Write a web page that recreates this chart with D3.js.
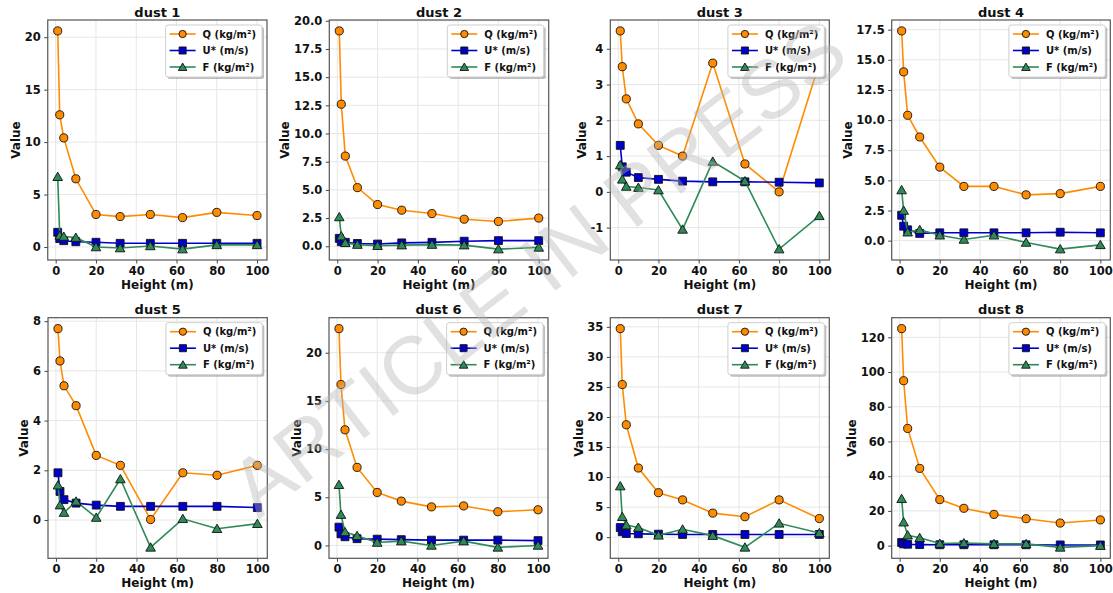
<!DOCTYPE html>
<html>
<head>
<meta charset="utf-8">
<script src="https://cdn.jsdelivr.net/npm/d3@7"></script>
<style>
body { margin: 0; background: #fff; }
text { font-family: "DejaVu Sans", sans-serif; font-weight: bold; fill: #111; }
</style>
</head>
<body>
<div id="chart"></div>
<script>
'use strict';

// ---------------- data ----------------
var heights = [1, 2, 4, 10, 20, 32, 47, 63, 80, 100];
var dustNames = ['dust 1', 'dust 2', 'dust 3', 'dust 4', 'dust 5', 'dust 6', 'dust 7', 'dust 8'];
var seriesNames = ['Q (kg/m\u00b2)', 'U* (m/s)', 'F (kg/m\u00b2)'];

var qValues = [
    [20.6, 12.6, 10.4, 6.5, 3.1, 2.9, 3.1, 2.8, 3.3, 3.0],
    [19.1, 12.6, 8.0, 5.2, 3.7, 3.2, 2.9, 2.4, 2.2, 2.5],
    [4.5, 3.5, 2.6, 1.9, 1.3, 1.0, 3.6, 0.78, 0.0, 3.6],
    [17.4, 14.0, 10.4, 8.6, 6.1, 4.5, 4.5, 3.8, 3.9, 4.5],
    [7.7, 6.4, 5.4, 4.6, 2.6, 2.2, 0.02, 1.9, 1.8, 2.2],
    [22.5, 16.7, 12.0, 8.1, 5.5, 4.6, 4.0, 4.1, 3.5, 3.7],
    [34.7, 25.4, 18.7, 11.5, 7.4, 6.2, 4.0, 3.4, 6.2, 3.1],
    [125, 95, 67.5, 44.5, 26.5, 21.5, 18, 15.5, 13, 14.8]
];

var uValues = [
    [1.4, 0.8, 0.6, 0.5, 0.45, 0.35, 0.35, 0.35, 0.35, 0.35],
    [0.7, 0.4, 0.35, 0.25, 0.2, 0.3, 0.35, 0.45, 0.5, 0.5],
    [1.3, 0.7, 0.55, 0.4, 0.35, 0.3, 0.28, 0.28, 0.27, 0.25],
    [2.1, 1.2, 0.9, 0.6, 0.65, 0.65, 0.65, 0.65, 0.7, 0.65],
    [1.9, 1.15, 0.82, 0.68, 0.6, 0.55, 0.55, 0.55, 0.55, 0.5],
    [1.9, 1.2, 0.9, 0.7, 0.65, 0.6, 0.55, 0.55, 0.55, 0.5],
    [1.6, 0.9, 0.6, 0.55, 0.5, 0.45, 0.45, 0.45, 0.45, 0.45],
    [1.8, 1.0, 0.8, 0.6, 0.5, 0.5, 0.5, 0.5, 0.4, 0.4]
];

var fValues = [
    [6.7, 1.1, 1.0, 0.9, 0.0, -0.1, 0.1, -0.2, 0.2, 0.2],
    [2.6, 0.9, 0.3, 0.15, 0.05, 0.1, 0.15, 0.1, -0.25, -0.1],
    [0.75, 0.35, 0.15, 0.12, 0.05, -1.05, 0.85, 0.3, -1.6, -0.67],
    [4.2, 2.5, 0.7, 0.9, 0.45, 0.1, 0.45, -0.15, -0.7, -0.35],
    [1.4, 0.6, 0.3, 0.75, 0.1, 1.65, -1.1, 0.05, -0.35, -0.15],
    [6.3, 3.2, 1.4, 1.0, 0.3, 0.45, 0.0, 0.45, -0.2, 0.0],
    [8.5, 3.4, 2.0, 1.6, 0.3, 1.3, 0.25, -1.7, 2.3, 0.7],
    [27, 13.5, 6, 4.5, 1.2, 1.5, 1, 1, -1, 0]
];

var xTickLabels = ['0', '20', '40', '60', '80', '100'];
var yTickLabels = [
    ['0', '5', '10', '15', '20'],
    ['0.0', '2.5', '5.0', '7.5', '10.0', '12.5', '15.0', '17.5', '20.0'],
    ['-1', '0', '1', '2', '3', '4'],
    ['0.0', '2.5', '5.0', '7.5', '10.0', '12.5', '15.0', '17.5'],
    ['0', '2', '4', '6', '8'],
    ['0', '5', '10', '15', '20'],
    ['0', '5', '10', '15', '20', '25', '30', '35'],
    ['0', '20', '40', '60', '80', '100', '120']
];

// ---------------- layout & style ----------------
var boxes = [
    {l: 47.75, t: 20,    r: 267,    b: 260},
    {l: 329.3, t: 20,    r: 548.7,  b: 260},
    {l: 610.3, t: 20,    r: 829.3,  b: 260},
    {l: 891.7, t: 20,    r: 1110.3, b: 260},
    {l: 48,    t: 317.7, r: 267.3,  b: 558.3},
    {l: 329,   t: 317.7, r: 548,    b: 558.3},
    {l: 610.3, t: 317.7, r: 829.3,  b: 558.3},
    {l: 891.7, t: 317.7, r: 1110.3, b: 558.3}
];

var colors  = ['#ff8c00', '#0000cd', '#2e8b57'];
var symbols = [d3.symbolCircle, d3.symbolSquare, d3.symbolTriangle];
var symSize = [52, 62, 40];

function pad(ext)
{
    var m = (ext[1] - ext[0]) * 0.05;
    return [ext[0] - m, ext[1] + m];
}

function drawPanel(svg, i)
{
    var box = boxes[i];
    var series = [qValues[i], uValues[i], fValues[i]];

    var xScale = d3.scaleLinear().domain(pad(d3.extent(heights))).range([box.l, box.r]);
    var all = d3.merge(series);
    var yScale = d3.scaleLinear().domain(pad(d3.extent(all))).range([box.b, box.t]);

    var xTicks = xTickLabels.map(Number);
    var yTicks = yTickLabels[i].map(Number);

    var g = svg.append('g');

    // grid
    g.append('g').selectAll('line.gx')
        .data(xTicks).enter().append('line')
        .attr('x1', function(d) { return xScale(d); })
        .attr('x2', function(d) { return xScale(d); })
        .attr('y1', box.t).attr('y2', box.b)
        .attr('stroke', '#e6e6e6').attr('stroke-width', 1);

    g.append('g').selectAll('line.gy')
        .data(yTicks).enter().append('line')
        .attr('x1', box.l).attr('x2', box.r)
        .attr('y1', function(d) { return yScale(d); })
        .attr('y2', function(d) { return yScale(d); })
        .attr('stroke', '#e6e6e6').attr('stroke-width', 1);

    // axes
    var xAxis = g.append('g')
        .attr('transform', 'translate(0,' + box.b + ')')
        .call(d3.axisBottom(xScale).tickValues(xTicks)
            .tickFormat(function(d, k) { return xTickLabels[k]; })
            .tickSize(3.5).tickPadding(3.5));

    var yAxis = g.append('g')
        .attr('transform', 'translate(' + box.l + ',0)')
        .call(d3.axisLeft(yScale).tickValues(yTicks)
            .tickFormat(function(d, k) { return yTickLabels[i][k]; })
            .tickSize(3.5).tickPadding(3.5));

    [xAxis, yAxis].forEach(function(a) {
        a.select('.domain').remove();
        a.selectAll('.tick line').attr('stroke', '#444');
        a.selectAll('.tick text')
            .style('font-family', '"DejaVu Sans", sans-serif')
            .style('font-weight', 'bold')
            .style('font-size', '11.5px')
            .attr('fill', '#111');
    });

    // spines
    g.append('rect')
        .attr('x', box.l).attr('y', box.t)
        .attr('width', box.r - box.l).attr('height', box.b - box.t)
        .attr('fill', 'none').attr('stroke', '#555').attr('stroke-width', 1.2);

    // lines + markers
    var line = d3.line()
        .x(function(d, k) { return xScale(heights[k]); })
        .y(function(d) { return yScale(d); });

    series.forEach(function(vals, s) {
        var sg = g.append('g');
        sg.append('path')
            .attr('d', line(vals))
            .attr('fill', 'none')
            .attr('stroke', colors[s])
            .attr('stroke-width', 1.6);
        sg.selectAll('path.m')
            .data(vals).enter().append('path')
            .attr('transform', function(d, k) {
                var dy = s === 2 ? 1 : 0;
                return 'translate(' + xScale(heights[k]) + ',' + (yScale(d) + dy) + ')';
            })
            .attr('d', d3.symbol().type(symbols[s]).size(symSize[s]))
            .attr('fill', colors[s])
            .attr('stroke', '#111')
            .attr('stroke-width', 0.9);
    });

    // title
    g.append('text')
        .attr('x', (box.l + box.r) / 2)
        .attr('y', box.t - 3.5)
        .attr('text-anchor', 'middle')
        .style('font-size', '13px')
        .text(dustNames[i]);

    // x label
    g.append('text')
        .attr('x', (box.l + box.r) / 2)
        .attr('y', box.b + 29)
        .attr('text-anchor', 'middle')
        .style('font-size', '12px')
        .text('Height (m)');

    // y label, left of the widest tick label
    var minX = d3.min(yAxis.selectAll('.tick text').nodes(), function(n) {
        var bb = n.getBBox();
        return box.l + bb.x;
    });
    g.append('text')
        .attr('transform', 'translate(' + (minX - 4.5) + ',' + ((box.t + box.b) / 2) + ') rotate(-90)')
        .attr('text-anchor', 'middle')
        .style('font-size', '12px')
        .text('Value');

    // legend
    var lg = g.append('g');
    var texts = [];
    var left = 0, top = box.t + 5;
    var tmp = lg.selectAll('text.t').data(seriesNames).enter().append('text')
        .style('font-size', '10px')
        .attr('dy', '0.35em')
        .text(function(d) { return d; });
    var tw = d3.max(tmp.nodes(), function(n) { return n.getComputedTextLength(); });
    var w = 37 + tw + 6;
    left = box.r - 5 - w;

    lg.insert('rect', 'text')
        .attr('x', left + 2).attr('y', top + 2)
        .attr('width', w).attr('height', 52)
        .attr('rx', 2.5)
        .attr('fill', '#888').attr('opacity', 0.55);
    lg.insert('rect', 'text')
        .attr('x', left).attr('y', top)
        .attr('width', w).attr('height', 52)
        .attr('rx', 2.5)
        .attr('fill', '#fff').attr('stroke', '#cfcfcf').attr('stroke-width', 1);

    tmp.attr('x', left + 37)
        .attr('y', function(d, k) { return top + 9 + k * 16.5; });

    seriesNames.forEach(function(nm, s) {
        var yy = top + 9 + s * 16.5;
        lg.append('line')
            .attr('x1', left + 4).attr('x2', left + 30)
            .attr('y1', yy).attr('y2', yy)
            .attr('stroke', colors[s]).attr('stroke-width', 1.6);
        lg.append('path')
            .attr('transform', 'translate(' + (left + 17) + ',' + (yy + (s === 2 ? 1 : 0)) + ')')
            .attr('d', d3.symbol().type(symbols[s]).size(symSize[s] * 0.8))
            .attr('fill', colors[s])
            .attr('stroke', '#111')
            .attr('stroke-width', 0.9);
    });
}

var svg = d3.select('#chart').append('svg')
    .attr('width', 1113)
    .attr('height', 593);

svg.append('rect').attr('width', 1113).attr('height', 593).attr('fill', '#fff');

for (var i = 0; i < dustNames.length; i++) {
    drawPanel(svg, i);
}

// watermark
svg.append('text')
    .attr('transform', 'translate(538,268) rotate(-37.7)')
    .attr('text-anchor', 'middle')
    .attr('dominant-baseline', 'central')
    .style('font-family', '"Liberation Sans", Arial, sans-serif')
    .style('font-weight', 'normal')
    .style('font-size', '82px')
    .style('fill', '#b4b4b4')
    .style('fill-opacity', 0.4)
    .text('ARTICLE IN PRESS');
</script>
</body>
</html>
